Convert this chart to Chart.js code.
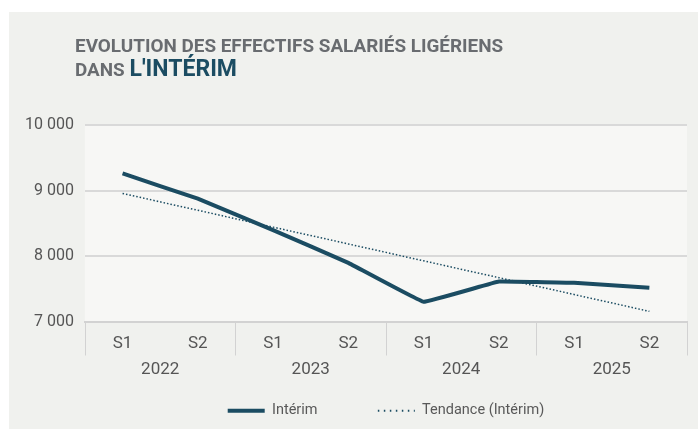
<!DOCTYPE html>
<html>
<head>
<meta charset="utf-8">
<script src="https://cdn.jsdelivr.net/npm/chart.js@4/dist/chart.umd.min.js"></script>
<style>
  html, body { margin: 0; padding: 0; background: #ffffff; }
  #panel { position: absolute; left: 9px; top: 12px; width: 689px; height: 417px; background: #f0f1ee; }
  #title { position: absolute; left: 66px; top: 22px; font-family: Roboto, sans-serif; font-weight: 700; font-size: 18.9px; line-height: 23px; color: #696c70; }
  #title .hl { color: #1b4c62; font-size: 23px; }
  #wrap { position: absolute; left: 0; top: 0; width: 689px; height: 417px; }
</style>
</head>
<body>
<div id="panel">
  <div id="wrap"><canvas id="lineChart"></canvas></div>
  <div id="title">EVOLUTION DES EFFECTIFS SALARIÉS LIGÉRIENS<br>DANS <span class="hl">L'INTÉRIM</span></div>
</div>
<script>
const semestres = ['S1', 'S2', 'S1', 'S2', 'S1', 'S2', 'S1', 'S2'];
const annees = ['2022', '2023', '2024', '2025'];
const interim = [9260, 8875, 8395, 7895, 7300, 7610, 7590, 7515];
const tendance = [8955, 8698, 8441, 8184, 7926, 7669, 7412, 7155];
const yTicks = [7000, 8000, 9000, 10000];

// fond clair de la zone de tracé + séparateurs des années sous l'axe
const decor = {
    id: 'decor',
    beforeDraw(chart) {
        const { ctx, chartArea: a } = chart;
        ctx.save();
        ctx.fillStyle = '#f7f7f5';
        ctx.fillRect(a.left, a.top, a.right - a.left, a.bottom - a.top);
        ctx.restore();
    },
    afterDraw(chart) {
        const { ctx, chartArea: a } = chart;
        const x = chart.scales.x;
        ctx.save();
        ctx.strokeStyle = '#d2d2d2';
        ctx.lineWidth = 1;
        for (let k = 0; k <= annees.length; k++) {
            const px = Math.round(x.left + (x.right - x.left) * k / annees.length) + 0.5;
            ctx.beginPath();
            ctx.moveTo(px, a.bottom);
            ctx.lineTo(px, x.bottom);
            ctx.stroke();
        }
        ctx.restore();
    }
};

const ctx = document.getElementById('lineChart').getContext('2d');
const lineChart = new Chart(ctx, {
    type: 'line',
    data: {
        labels: semestres,
        datasets: [
            {
                label: 'Intérim',
                data: interim,
                borderColor: '#1b4c62',
                borderWidth: 4,
                pointRadius: 0,
                pointStyle: 'line',
                tension: 0.05
            },
            {
                label: 'Tendance (Intérim)',
                data: tendance,
                borderColor: '#1b4c62',
                borderWidth: 1.5,
                borderDash: [1.5, 2],
                pointRadius: 0,
                pointStyle: 'line'
            }
        ]
    },
    options: {
        responsive: true,
        maintainAspectRatio: false,
        animation: false,
        layout: { padding: { top: 113, left: 5, right: 11, bottom: 1 } },
        plugins: {
            legend: {
                position: 'bottom',
                fullSize: false,
                labels: {
                    usePointStyle: true,
                    pointStyleWidth: 37,
                    boxHeight: 8,
                    padding: 13,
                    color: '#595959',
                    font: { family: 'Roboto', size: 14.5 },
                    generateLabels(chart) {
                        const items = Chart.defaults.plugins.legend.labels.generateLabels(chart);
                        // espace entre les deux entrées comme sur l'original
                        items[0].text = items[0].text + '\u2003\u2003\u2003\u2009';
                        items[1].lineDash = [1.5, 4.5];
                        items[1].lineWidth = 2;
                        return items;
                    }
                }
            },
            tooltip: { enabled: false }
        },
        scales: {
            x: {
                offset: true,
                weight: 0,
                grid: { display: false, drawTicks: false },
                border: { display: true, color: '#d2d2d2', width: 2 },
                ticks: { color: '#555', padding: 12, font: { family: 'Roboto', size: 17 } },
                afterFit: (scale) => { scale.height = 34; }
            },
            x2: {
                type: 'category',
                position: 'bottom',
                weight: 1,
                labels: annees,
                offset: true,
                grid: { display: false, drawTicks: false },
                border: { display: false },
                ticks: { color: '#555', padding: 4, font: { family: 'Roboto', size: 17 } },
                afterFit: (scale) => { scale.height = 35; }
            },
            y: {
                min: 7000,
                max: 10000,
                afterBuildTicks: (axis) => { axis.ticks = yTicks.map(v => ({ value: v })); },
                grid: { color: '#d9d9d9', lineWidth: 2, drawTicks: false },
                border: { display: false },
                ticks: {
                    color: '#555',
                    padding: 11,
                    font: { family: 'Roboto', size: 16 },
                    callback: (v) => String(v).replace(/\B(?=(\d{3})+(?!\d))/g, ' ')
                }
            }
        }
    },
    plugins: [decor]
});
</script>
</body>
</html>
